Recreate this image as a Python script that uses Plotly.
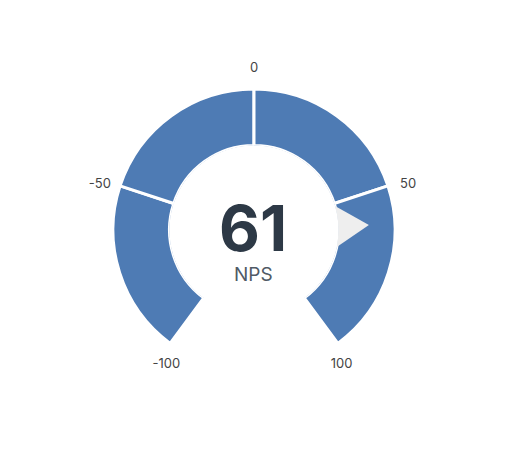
import plotly.graph_objects as go

# gauge data
range_min = -100
range_max = 100
band_edges = [-100, -50, 0, 50, 100]
tick_values = [-100, -50, 0, 50, 100]
tick_labels = ["-100", "-50", "0", "50", "100"]
score = 61
score_label = "NPS"

SWEEP = 287.0        # degrees covered by the dial
LABEL_SWEEP = 294.0  # labels fan out a touch wider than the bands


def to_theta(v, sweep=SWEEP):
    return (v - (range_min + range_max) / 2) * sweep / (range_max - range_min)


BLUE = "#4e7bb4"
POINTER = "#eeeeee"
W, H = 507, 476
CX, CY = 246, 222  # dial centre in figure pixels (page adds an 8px body margin)

fig = go.Figure()

# the four blue bands
lo, hi = band_edges[:-1], band_edges[1:]
centers = [to_theta((a + b) / 2) for a, b in zip(lo, hi)]
widths = [to_theta(b) - to_theta(a) for a, b in zip(lo, hi)]
fig.add_trace(go.Barpolar(
    r=[1] * len(centers), theta=centers, width=widths, base=0,
    marker=dict(color=BLUE, line=dict(color="white", width=3)),
    hoverinfo="skip", showlegend=False,
))

# pointer triangle sitting on the inner edge
t = to_theta(score)
fig.add_trace(go.Scatterpolar(
    r=[0.0, 0.54, 0.0, 0.0], theta=[t - 14, t, t + 14, t - 14],
    mode="lines", fill="toself", fillcolor=POINTER,
    line=dict(color=POINTER, width=0),
    hoverinfo="skip", showlegend=False,
))

# tick labels outside the dial
fig.add_trace(go.Scatterpolar(
    r=[1.35] * len(tick_values),
    theta=[to_theta(v, LABEL_SWEEP) for v in tick_values],
    mode="text", text=tick_labels,
    textfont=dict(family="Inter", size=13, color="#444444"),
    cliponaxis=False, hoverinfo="skip", showlegend=False,
))

R = 170
fig.update_layout(
    width=W, height=H,
    margin=dict(l=0, r=0, t=0, b=0),
    paper_bgcolor="white",
    polar=dict(
        domain=dict(x=[(CX - R) / W, (CX + R) / W],
                    y=[(H - CY - R) / H, (H - CY + R) / H]),
        bgcolor="rgba(0,0,0,0)",
        hole=0.497,
        radialaxis=dict(range=[0, 1.513], visible=False, showgrid=False),
        angularaxis=dict(rotation=90, direction="clockwise", visible=False,
                         showgrid=False, thetaunit="degrees"),
    ),
    annotations=[
        dict(text="<b>%d</b>" % score, x=(CX - 1) / W, y=1 - (CY - 2) / H,
             xref="paper", yref="paper", showarrow=False,
             font=dict(family="Inter", size=63, color="#2d3946")),
        dict(text=score_label, x=(CX - 1) / W, y=1 - (CY + 44) / H,
             xref="paper", yref="paper", showarrow=False,
             font=dict(family="Inter", size=19, color="#505a66")),
    ],
)

fig.write_html("out.html")
